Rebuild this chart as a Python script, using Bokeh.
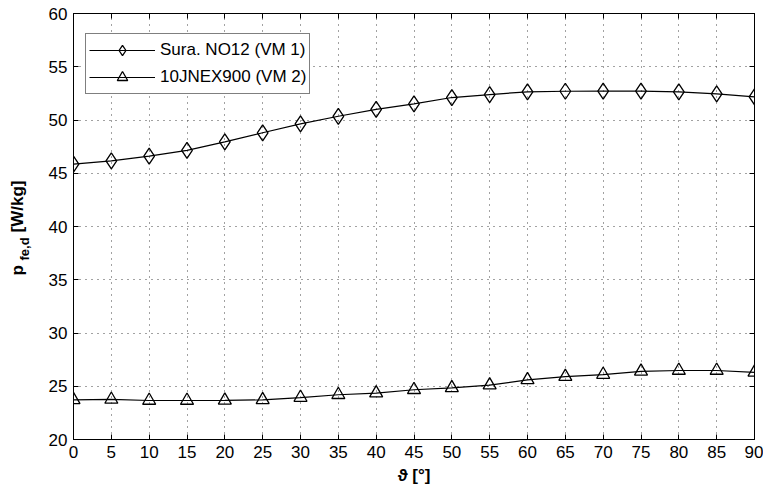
from bokeh.plotting import figure
from bokeh.models import LinearAxis, FixedTicker, Range1d, Title
from bokeh.embed import file_html
from bokeh.resources import INLINE

# ---- data ----
theta = [0, 5, 10, 15, 20, 25, 30, 35, 40, 45, 50, 55, 60, 65, 70, 75, 80, 85, 90]
sura_no12 = [45.85, 46.17, 46.6, 47.14, 47.95, 48.8, 49.64, 50.35, 51.0, 51.52,
             52.11, 52.39, 52.65, 52.7, 52.72, 52.72, 52.65, 52.45, 52.18]
jnex900 = [23.72, 23.76, 23.66, 23.66, 23.68, 23.72, 23.94, 24.2, 24.35, 24.67,
           24.85, 25.1, 25.6, 25.9, 26.1, 26.4, 26.48, 26.48, 26.3]
label_sura = "Sura. NO12 (VM 1)"
label_jnex = "10JNEX900 (VM 2)"
x_ticks = list(range(0, 95, 5))
y_ticks = list(range(20, 65, 5))
y_label_p = "p"
y_label_sub = "fe,d"
y_label_unit = "[W/kg]"
x_label = "\u03d1 [\u00b0]"

FONT = "Liberation Sans"

p = figure(width=763, height=494, output_backend="svg", toolbar_location=None,
           x_range=Range1d(0, 90), y_range=Range1d(20, 60),
           min_border_left=72, min_border_right=9, min_border_top=13,
           min_border_bottom=55)

p.outline_line_color = "black"
p.outline_line_width = 1

for ax in (p.xaxis[0], p.yaxis[0]):
    ax.major_tick_in = 5
    ax.major_tick_out = 0
    ax.minor_tick_line_color = None
    ax.axis_line_color = "black"
    ax.major_tick_line_color = "black"
    ax.major_label_text_font = FONT
    ax.major_label_text_font_size = "17px"
    ax.major_label_text_color = "black"
    ax.major_label_standoff = 6

p.xaxis.ticker = FixedTicker(ticks=x_ticks)
p.yaxis.ticker = FixedTicker(ticks=y_ticks)
p.xaxis.axis_label = x_label
p.xaxis.axis_label_text_font = FONT
p.xaxis.axis_label_text_font_size = "17px"
p.xaxis.axis_label_text_font_style = "bold"
p.xaxis.axis_label_text_color = "black"
p.xaxis.axis_label_standoff = 5

# y-axis label as side titles: subscript (inner), "p" and "[W/kg]" (outer, same column)
title_style = dict(align="left", vertical_align="bottom", text_font=FONT,
                   text_font_style="bold", text_color="black")
p.add_layout(Title(text=y_label_sub, offset=179, standoff=28,
                   text_font_size="13px", **title_style), "left")
p.add_layout(Title(text=y_label_p, offset=164, standoff=-52,
                   text_font_size="17px", **title_style), "left")
p.add_layout(Title(text=y_label_unit, offset=207, standoff=-52,
                   text_font_size="17px", **title_style), "left")

# mirrored axes (box ticks)
for loc, ticks in (("above", x_ticks), ("right", y_ticks)):
    ax = LinearAxis(ticker=FixedTicker(ticks=ticks))
    ax.major_tick_in = 5
    ax.major_tick_out = 0
    ax.minor_tick_line_color = None
    ax.axis_line_color = "black"
    ax.major_label_text_font_size = "1px"
    ax.major_label_text_color = None
    ax.major_label_standoff = 0
    p.add_layout(ax, loc)

p.xgrid.ticker = FixedTicker(ticks=x_ticks)
p.ygrid.ticker = FixedTicker(ticks=y_ticks)
for g in (p.xgrid[0], p.ygrid[0]):
    g.grid_line_color = "#444444"
    g.grid_line_dash = "1 5"
    g.grid_line_width = 1

# series
p.line(theta, sura_no12, line_color="black", line_width=1.2, legend_label=label_sura)
p.scatter(theta, sura_no12, marker="diamond", size=16,
          line_color="black", line_width=1.3, fill_alpha=0, legend_label=label_sura)
p.line(theta, jnex900, line_color="black", line_width=1.2, legend_label=label_jnex)
p.scatter(theta, jnex900, marker="triangle", size=13,
          line_color="black", line_width=1.3, fill_alpha=0, legend_label=label_jnex)

lg = p.legend[0]
lg.location = (12, 345)
lg.border_line_color = "black"
lg.border_line_width = 1
lg.background_fill_color = "white"
lg.background_fill_alpha = 1
lg.label_text_font = FONT
lg.label_text_font_size = "17px"
lg.label_text_color = "black"
lg.padding = 3
lg.spacing = 1
lg.label_height = 20
lg.glyph_height = 26
lg.glyph_width = 66
lg.label_standoff = 5
lg.margin = 0

open("out.html", "w").write(file_html(p, INLINE))
